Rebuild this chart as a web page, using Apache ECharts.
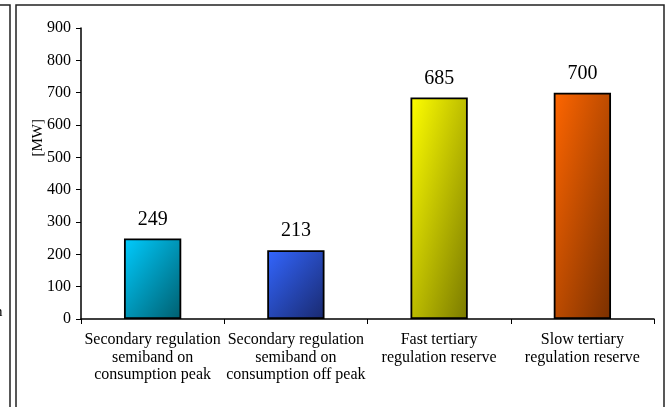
<!DOCTYPE html>
<html>
<head>
<meta charset="utf-8">
<script src="https://cdn.jsdelivr.net/npm/echarts@6/dist/echarts.min.js"></script>
<style>
html,body{margin:0;padding:0;background:#fff;}
#chart{width:667px;height:407px;}
</style>
</head>
<body>
<div id="chart"></div>
<script>
var categories = [
  'Secondary regulation\nsemiband on\nconsumption peak',
  'Secondary regulation\nsemiband on\nconsumption off peak',
  'Fast tertiary\nregulation reserve',
  'Slow tertiary\nregulation reserve'
];
var values = [249, 213, 685, 700];
var yTicks = [0, 100, 200, 300, 400, 500, 600, 700, 800, 900];
var unitLabel = '[MW]';
var barColors = [
  ['#00CCFF', '#005E6E'],
  ['#3366FF', '#19296E'],
  ['#FFFF00', '#7A7A00'],
  ['#FF6600', '#7A3000']
];

var FONT = 'Liberation Serif';
var chart = echarts.init(document.getElementById('chart'));

function makeData(barW, pxPerUnit) {
  return values.map(function (v, i) {
    var w = barW, h = Math.max(v * pxPerUnit, 1);
    // diagonal gradient: top-right and bottom-left corners share the middle colour
    var x2 = 2 * h * h / (h * h + w * w);
    var y2 = 2 * w * w / (h * h + w * w);
    return {
      value: v,
      itemStyle: {
        color: new echarts.graphic.LinearGradient(0, 0, x2, y2, [
          { offset: 0, color: barColors[i][0] },
          { offset: 1, color: barColors[i][1] }
        ])
      }
    };
  });
}

chart.setOption({
  backgroundColor: '#ffffff',
  animation: false,
  grid: { left: 81, right: 13, top: 28, bottom: 88 },
  xAxis: {
    type: 'category',
    data: categories,
    axisLine: { lineStyle: { color: '#000', width: 1.5 } },
    axisTick: { show: true, length: 5, lineStyle: { color: '#000', width: 1 } },
    axisLabel: {
      color: '#000', fontFamily: FONT, fontSize: 16, lineHeight: 17.5,
      margin: 12.5, interval: 0
    }
  },
  yAxis: {
    type: 'value',
    min: yTicks[0],
    max: yTicks[yTicks.length - 1],
    interval: yTicks[1] - yTicks[0],
    axisLine: { show: true, lineStyle: { color: '#000', width: 1.5 } },
    axisTick: { show: true, length: 5, lineStyle: { color: '#000', width: 1 } },
    splitLine: { show: false },
    axisLabel: { color: '#000', fontFamily: FONT, fontSize: 16, margin: 10 }
  },
  series: [{
    type: 'bar',
    data: values.slice(),
    barWidth: '40%',
    itemStyle: { borderColor: '#000', borderWidth: 1.8 },
    label: {
      show: true, position: 'top', distance: 9,
      color: '#000', fontFamily: FONT, fontSize: 20
    }
  }],
  graphic: [
    {
      type: 'text', left: 31, top: 119, rotation: Math.PI / 2,
      style: { text: unitLabel, fill: '#000', font: '15px "Liberation Serif"' },
      z: 10
    },
    {
      type: 'text', x: -5, y: 305,
      style: { text: 'n', fill: '#000', font: '15px "Liberation Serif"' }
    },
    {
      type: 'polyline',
      shape: { points: [[0, 5], [10, 5], [10, 407]] },
      style: { stroke: '#222', lineWidth: 1.5, fill: null }
    },
    {
      type: 'polyline',
      shape: { points: [[16, 407], [16, 5], [664, 5], [664, 407]] },
      style: { stroke: '#222', lineWidth: 1.5, fill: null }
    }
  ]
});

// compute pixel sizes of bars from the axes to orient the gradient like the reference
var y0 = chart.convertToPixel({ yAxisIndex: 0 }, 0);
var y100 = chart.convertToPixel({ yAxisIndex: 0 }, 100);
var pxPerUnit = (y0 - y100) / 100;
var xa = chart.convertToPixel({ xAxisIndex: 0 }, 0);
var xb = chart.convertToPixel({ xAxisIndex: 0 }, 1);
var barW = Math.abs(xb - xa) * 0.4;
chart.setOption({ series: [{ data: makeData(barW, pxPerUnit) }] });
</script>
</body>
</html>
